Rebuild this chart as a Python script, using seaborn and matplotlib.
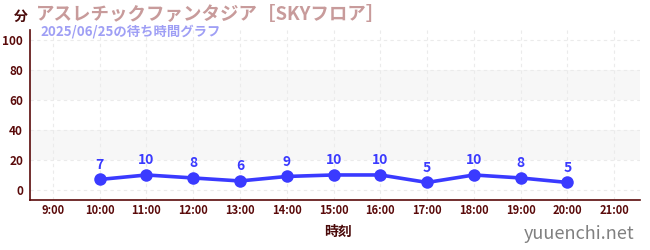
import matplotlib
matplotlib.use("Agg")
import matplotlib.pyplot as plt
import seaborn as sns
import pandas as pd
from matplotlib.ticker import MultipleLocator

hours = [10, 11, 12, 13, 14, 15, 16, 17, 18, 19, 20]
waits = [7, 10, 8, 6, 9, 10, 10, 5, 10, 8, 5]
xticks = list(range(9, 22))
xticklabels = [f"{h}:00" for h in xticks]
yticks = [0, 20, 40, 60, 80, 100]
title = "アスレチックファンタジア［SKYフロア］"
subtitle = "2025/06/25の待ち時間グラフ"
ylabel = "分"
xlabel = "時刻"
site = "yuuenchi.net"

sns.set_style("white")
plt.rcParams['font.family'] = ['Noto Sans CJK JP', 'DejaVu Sans']

df = pd.DataFrame({"hour": hours, "wait": waits})

fig = plt.figure(figsize=(6.5, 2.5), dpi=100)
ax = fig.add_axes([30/650, 1-200/250, 610/650, 170/250])

ax.set_xlim(8.51, 21.55)
ax.set_ylim(-6.7, 106.7)

for lo, hi in [(20, 40), (60, 80)]:
    ax.axhspan(lo, hi, color="#f7f7f7", zorder=0, lw=0)
for y in yticks:
    ax.axhline(y, color="#ebebeb", lw=0.8, ls=(0, (3, 3)), zorder=0.5)
for x in xticks:
    ax.axvline(x, color="#ebebeb", lw=0.8, ls=(0, (3, 3)), zorder=0.5)

sns.lineplot(data=df, x="hour", y="wait", ax=ax, color="#3a3aff", lw=2.6,
             marker="o", markersize=9, markeredgewidth=0, zorder=3)

for h, w in zip(hours, waits):
    ax.annotate(str(w), (h, w), xytext=(0, 5.5), textcoords="offset points",
                ha="center", va="bottom", color="#3a3aff", fontsize=10,
                fontweight="bold")

ax.set_xticks(xticks)
ax.set_xticklabels(xticklabels)
ax.set_yticks(yticks)
ax.yaxis.set_minor_locator(MultipleLocator(10))
ax.tick_params(axis="x", colors="#5a0a0a", labelsize=8, length=4, width=0.8,
               direction="inout", pad=1)
ax.tick_params(axis="y", which="major", colors="#5a0a0a", labelsize=8.5,
               length=6, width=0.8, direction="inout", pad=2)
ax.tick_params(axis="y", which="minor", colors="#cc3333", length=3, width=0.8,
               direction="out")
for lab in ax.get_xticklabels() + ax.get_yticklabels():
    lab.set_fontweight("bold")
    lab.set_color("#5a0a0a")

ax.set_xlabel("")
ax.set_ylabel("")
for s in ["top", "right"]:
    ax.spines[s].set_visible(False)
for s in ["left", "bottom"]:
    ax.spines[s].set_color("#5a0a0a")
    ax.spines[s].set_linewidth(1.2)

fig.text(338/650, 1-232/250, xlabel, ha="center", va="center", fontsize=10,
         fontweight="bold", color="#4a0a0a")
fig.text(14/650, 1-17/250, ylabel, ha="left", va="center", fontsize=10,
         fontweight="bold", color="#4a0a0a")
fig.text(36/650, 1-14/250, title, ha="left", va="center", fontsize=13.3,
         fontweight="bold", color="#c89b9b")
fig.text(40/650, 1-31/250, subtitle, ha="left", va="center", fontsize=9.6,
         fontweight="bold", color="#9f9ff5")
fig.text(634/650, 1-234/250, site, ha="right", va="center", fontsize=13,
         color="#808080")

fig.savefig("out.png", dpi=100)
